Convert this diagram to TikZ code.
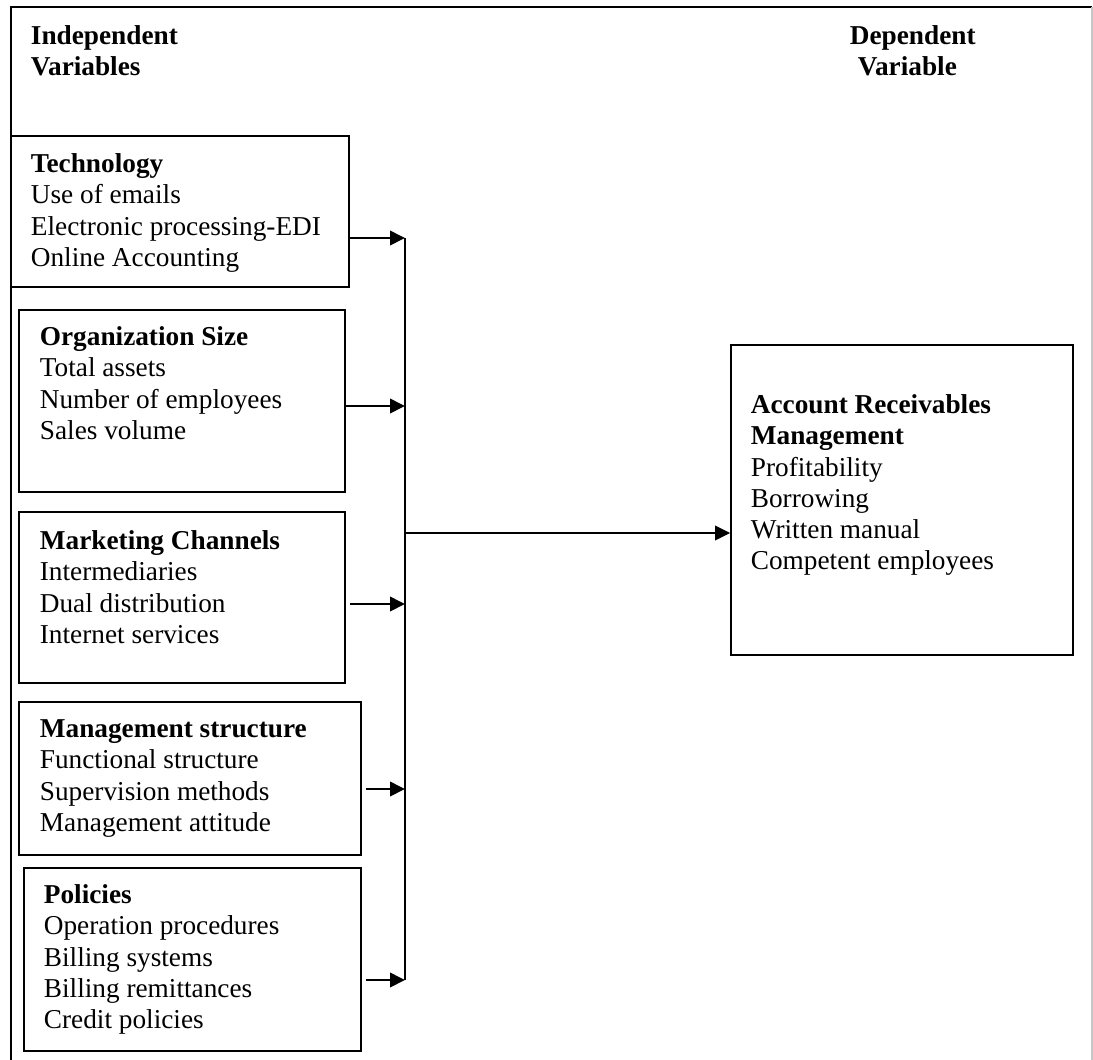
\documentclass[tikz,border=0pt]{standalone}
\usepackage{fontspec}
\setmainfont{Liberation Serif}
\usepackage{tikz}
\usetikzlibrary{arrows.meta,fit,calc}

\tikzset{
    box/.style={draw, line width=0.8pt, inner sep=0pt},
    txt/.style={anchor=north west, align=left, inner sep=0pt,
                font=\fontsize{12}{13.7}\selectfont},
    arr/.style={line width=0.8pt, -{Triangle[length=6.6pt,width=6.4pt]}}
}

\begin{document}
\begin{tikzpicture}[x=0.44pt, y=-0.44pt, line width=0.8pt]
                    \useasboundingbox (0,0) rectangle (1093,1060);
                    % frame
                    \draw (11,1060) -- (11,7) -- (1092,7);
                    \draw[gray!45] (1092,7) -- (1092,1060);

                    \node[txt] (indep) at (30,25) {\textbf{Independent}\\\textbf{Variables}};
                    \node[txt] (dep) at (849,25) {\textbf{Dependent}\\\hspace{3.5pt}\textbf{Variable}};

                    \node[box, fit={(11,136) (349,287)}] (tech) {};
                    \node[txt] (tech-txt) at (30,153) {\textbf{Technology}\\Use of emails\\Electronic processing-EDI\\Online Accounting};

                    \node[box, fit={(19,310) (345,492)}] (orgsize) {};
                    \node[txt] (orgsize-txt) at (39,326) {\textbf{Organization Size}\\Total assets\\Number of employees\\Sales volume};

                    \node[box, fit={(19,512) (345,683)}] (mktch) {};
                    \node[txt] (mktch-txt) at (39,530) {\textbf{Marketing Channels}\\Intermediaries\\Dual distribution\\Internet services};

                    \node[box, fit={(19,702) (361,855)}] (mgmt) {};
                    \node[txt] (mgmt-txt) at (39,719) {\textbf{Management structure}\\Functional structure\\Supervision methods\\Management attitude};

                    \node[box, fit={(24,868) (361,1051)}] (policies) {};
                    \node[txt] (policies-txt) at (43,884) {\textbf{Policies}\\Operation procedures\\Billing systems\\Billing remittances\\Credit policies};

                    \node[box, fit={(731,345) (1073,655)}] (arm) {};
                    \node[txt] (arm-txt) at (750,394) {\textbf{Account Receivables}\\\textbf{Management}\\Profitability\\Borrowing\\Written manual\\Competent employees};

                    \coordinate (b1) at (405,238);
                    \coordinate (b2) at (405,406);
                    \coordinate (b3) at (405,604);
                    \coordinate (b4) at (405,789);
                    \coordinate (b5) at (405,980);
                    \coordinate (hub) at (405,533);

                    \draw[arr] (tech.east |- b1) -- (b1);
                    \draw[arr] (orgsize.east |- b2) -- (b2);
                    \draw[arr, shorten <=1.8pt] (mktch.east |- b3) -- (b3);
                    \draw[arr, shorten <=1.8pt] (mgmt.east |- b4) -- (b4);
                    \draw[arr, shorten <=1.8pt] (policies.east |- b5) -- (b5);
                    \draw (b1) -- (b5);
                    \draw[arr] (hub) -- (arm.west |- hub);
                    % \draw[arr] (hub) -- (arm);
                \end{tikzpicture}
\end{document}
